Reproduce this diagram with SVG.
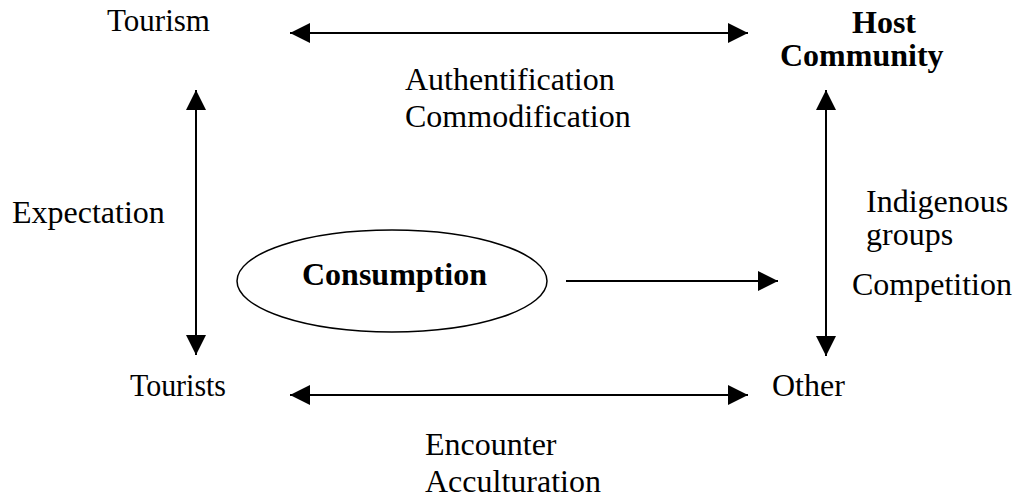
<svg xmlns="http://www.w3.org/2000/svg" width="1016" height="497" viewBox="0 0 1016 497">
<style>
  text { font-family: "Liberation Serif", "Times New Roman", "DejaVu Serif", serif; font-size: 32px; fill: #000; }
  .b { font-weight: bold; }
  .ln { stroke: #000; stroke-width: 2; fill: none; }
</style>
<defs>
  <marker id="ah" viewBox="0 0 20 20" refX="20" refY="10" markerWidth="20" markerHeight="20" markerUnits="userSpaceOnUse" orient="auto-start-reverse">
    <path d="M0,0 L20,10 L0,20 z" fill="#000"/>
  </marker>
</defs>
<rect width="1016" height="497" fill="#fff"/>
<g id="tourism"><text x="107" y="31" textLength="103" lengthAdjust="spacingAndGlyphs">Tourism</text></g>
<g id="host-community">
  <text class="b" x="852" y="33">Host</text>
  <text class="b" x="780" y="66">Community</text>
</g>
<g id="tourists"><text x="130" y="396" textLength="96" lengthAdjust="spacingAndGlyphs">Tourists</text></g>
<g id="other"><text x="772" y="396">Other</text></g>
<g id="consumption">
  <ellipse cx="392" cy="281" rx="155" ry="51" fill="none" stroke="#000" stroke-width="1.5"/>
  <text class="b" x="302" y="285">Consumption</text>
</g>
<g id="connectors">
  <line class="ln" x1="290" y1="33" x2="748" y2="33" marker-start="url(#ah)" marker-end="url(#ah)"/>
  <line class="ln" x1="196" y1="90" x2="196" y2="355" marker-start="url(#ah)" marker-end="url(#ah)"/>
  <line class="ln" x1="826" y1="90" x2="826" y2="356" marker-start="url(#ah)" marker-end="url(#ah)"/>
  <line class="ln" x1="290" y1="395" x2="748" y2="395" marker-start="url(#ah)" marker-end="url(#ah)"/>
  <line class="ln" x1="566" y1="281" x2="778" y2="281" marker-end="url(#ah)"/>
</g>
<g id="labels">
  <text x="405" y="90">Authentification</text>
  <text x="405" y="127">Commodification</text>
  <text x="12" y="223">Expectation</text>
  <text x="866" y="212">Indigenous</text>
  <text x="866" y="245">groups</text>
  <text x="852" y="295">Competition</text>
  <text x="425" y="455">Encounter</text>
  <text x="425" y="492">Acculturation</text>
</g>
</svg>
